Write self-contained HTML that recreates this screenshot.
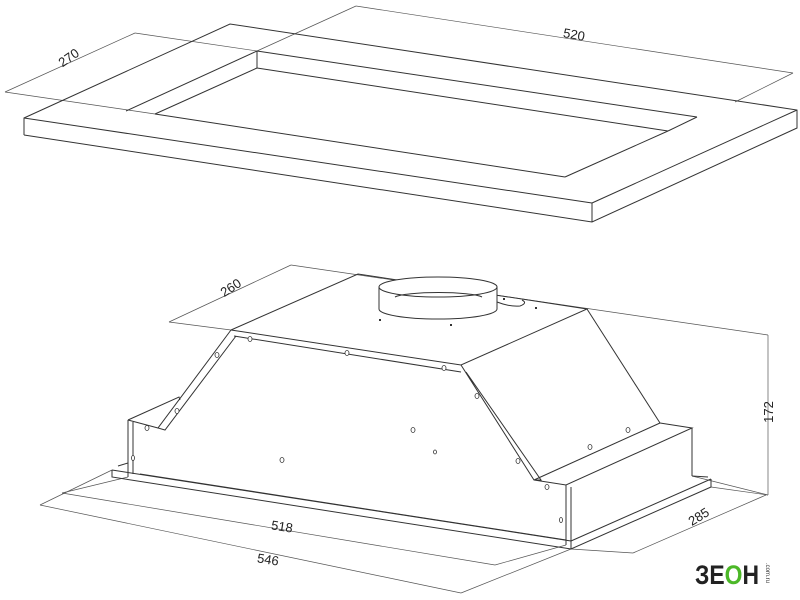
<!DOCTYPE html>
<html><head><meta charset="utf-8"><style>
html,body{margin:0;padding:0;background:#fff;}
svg{display:block}
text{font-family:"Liberation Sans",sans-serif;fill:#222;}
</style></head><body>
<svg width="800" height="600" viewBox="0 0 800 600" xmlns="http://www.w3.org/2000/svg">
<g fill="none" stroke="#555" stroke-width="0.7">
<line x1="5" y1="92" x2="135" y2="33"/>
<line x1="5" y1="92" x2="155" y2="114"/>
<line x1="135" y1="33" x2="257" y2="51"/>
<line x1="356" y1="6" x2="793" y2="73"/>
<line x1="356" y1="6" x2="257" y2="51"/>
<line x1="793" y1="73" x2="735" y2="102"/>
</g>
<g fill="none" stroke="#333" stroke-width="1">
<polyline points="24,135 24,118 230,24 797,110 797,128 592,222 24,135"/>
<line x1="24" y1="118" x2="592" y2="203"/>
<line x1="592" y1="203" x2="797" y2="110"/>
<line x1="592" y1="203" x2="592" y2="222"/>
<line x1="257" y1="51" x2="257" y2="68"/>
<line x1="257" y1="51" x2="126" y2="111"/>
<line x1="257" y1="68" x2="155" y2="114"/>
<line x1="257" y1="51" x2="697" y2="117"/>
<line x1="257" y1="68" x2="668" y2="131"/>
<line x1="697" y1="117" x2="668" y2="131"/>
<line x1="155" y1="114" x2="565" y2="177"/>
<line x1="668" y1="131" x2="565" y2="177"/>
</g>
<text x="69" y="62" font-size="13" transform="rotate(-35 69 58)" text-anchor="middle">270</text>
<text x="574" y="39" font-size="13" transform="rotate(10 574 35)" text-anchor="middle">520</text>

<g fill="none" stroke="#555" stroke-width="0.7">
<line x1="291" y1="265" x2="169" y2="322"/>
<line x1="291" y1="265" x2="768" y2="335"/>
<line x1="169" y1="322" x2="231" y2="330"/>
<line x1="768" y1="335" x2="768" y2="495"/>
<line x1="692" y1="476" x2="768" y2="495"/>
<line x1="711" y1="487" x2="768" y2="495"/>
<line x1="766" y1="495" x2="633" y2="553"/>
<line x1="571" y1="549" x2="633" y2="553"/>
<line x1="62" y1="493" x2="495" y2="565"/>
<line x1="40" y1="505" x2="461" y2="593"/>
<line x1="112" y1="470" x2="40" y2="505"/>
<line x1="128" y1="477" x2="62" y2="493"/>
<line x1="571" y1="549" x2="461" y2="593"/>
<line x1="566" y1="545" x2="495" y2="565"/>
</g>
<g fill="none" stroke="#333" stroke-width="1">
<polyline points="231,330 358,274 587,309 461,365 231,330"/>
<path d="M379,287 L379,309 A59,10 0 0 0 497,309 L497,287 Z" fill="#fff"/>
<ellipse cx="438" cy="287" rx="59" ry="10" fill="#fff"/>
<path d="M395,297 A45,6 0 0 1 482,297"/>
<path d="M497,302 Q510,307 520,306 Q528,303 522,300"/>
<line x1="234" y1="336" x2="461" y2="372"/>
<polyline points="231,330 158,428 165,430 236,336"/>
<line x1="128" y1="420" x2="158" y2="428"/>
<polyline points="128,420 179,397 180,400"/>
<polyline points="461,365 534,480 541,480 466,372"/>
<line x1="587" y1="309" x2="660" y2="423"/>
<line x1="660" y1="423" x2="534" y2="480"/>
<polyline points="534,480 566,485 692,428 660,423"/>
<line x1="128" y1="420" x2="128" y2="477"/>
<line x1="133" y1="422" x2="133" y2="474"/>
<line x1="566" y1="485" x2="566" y2="545"/>
<line x1="571" y1="487" x2="571" y2="545"/>
<line x1="692" y1="428" x2="692" y2="476"/>
<polyline points="112,470 112,477 571,549 711,487 711,479"/>
<line x1="112" y1="470" x2="571" y2="541"/>
<line x1="571" y1="541" x2="711" y2="479"/>
<line x1="571" y1="541" x2="571" y2="549"/>
<line x1="118" y1="466" x2="128" y2="463"/>
<line x1="692" y1="476" x2="708" y2="477"/>
<line x1="140" y1="474" x2="566" y2="540"/>
</g>
<g fill="#fff" stroke="#333" stroke-width="0.8">
<ellipse cx="250" cy="339" rx="2" ry="2.5"/>
<ellipse cx="347" cy="353" rx="2" ry="2.5"/>
<ellipse cx="444" cy="368" rx="2" ry="2.5"/>
<ellipse cx="217" cy="355" rx="2" ry="2.5"/>
<ellipse cx="177" cy="411" rx="2" ry="2.5"/>
<ellipse cx="147" cy="428" rx="2" ry="2.5"/>
<ellipse cx="133" cy="458" rx="1.5" ry="2.5"/>
<ellipse cx="477" cy="396" rx="2" ry="2.5"/>
<ellipse cx="518" cy="461" rx="2" ry="2.5"/>
<ellipse cx="547" cy="487" rx="2" ry="2.5"/>
<ellipse cx="561" cy="520" rx="1.5" ry="2.5"/>
<ellipse cx="413" cy="430" rx="2" ry="2.5"/>
<ellipse cx="435" cy="452" rx="1.5" ry="2"/>
<ellipse cx="282" cy="460" rx="2" ry="2.5"/>
<ellipse cx="590" cy="447" rx="2" ry="2.5"/>
<ellipse cx="628" cy="430" rx="2" ry="2.5"/>
</g>
<g fill="#333"><rect x="379" y="319" width="2" height="2"/><rect x="450" y="324" width="2" height="2"/><rect x="503" y="298" width="2" height="2"/><rect x="535" y="307" width="2" height="2"/></g>
<text x="231" y="292" font-size="13" transform="rotate(-33 231 288)" text-anchor="middle">260</text>
<text x="282" y="531" font-size="13" transform="rotate(9 282 527)" text-anchor="middle">518</text>
<text x="268" y="564" font-size="13" transform="rotate(9 268 560)" text-anchor="middle">546</text>
<text x="699" y="521" font-size="13" transform="rotate(-32 699 517)" text-anchor="middle">285</text>
<text x="769" y="416" font-size="13" transform="rotate(-90 769 412)" text-anchor="middle">172</text>
<text x="695" y="584" font-size="27" font-weight="bold" style="fill:#222" textLength="64" lengthAdjust="spacingAndGlyphs">ЗЕ<tspan style="fill:#4cb828">О</tspan>Н</text>
<text x="766" y="563" font-size="6" transform="rotate(90 766 563)" style="fill:#333">.com.ru</text>
</svg>
</body></html>
